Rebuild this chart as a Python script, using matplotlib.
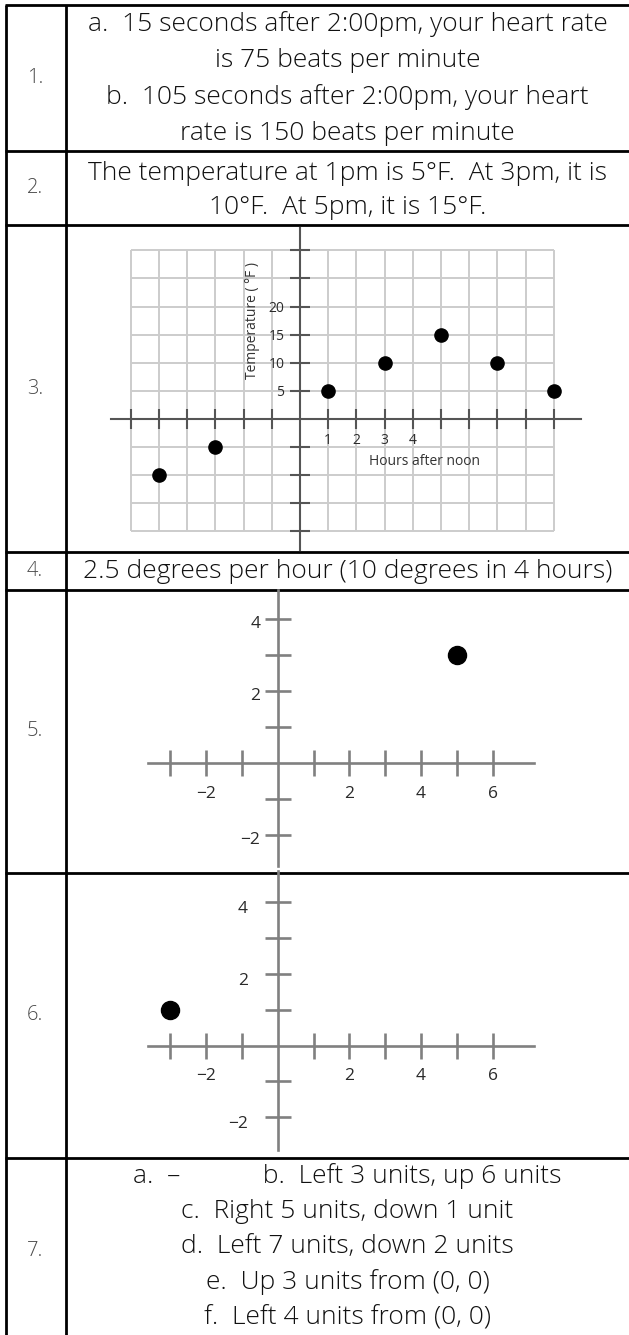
import numpy as np
import matplotlib.pyplot as plt
import matplotlib.transforms as mtransforms

W, H = 629, 1335
DPI = 100
plt.rcParams['font.family'] = ['Open Sans', 'DejaVu Sans']

# table text
row_labels = ['1.', '2.', '3.', '4.', '5.', '6.', '7.']
row1_lines = ['a.  15 seconds after 2:00pm, your heart rate',
              'is 75 beats per minute',
              'b.  105 seconds after 2:00pm, your heart',
              'rate is 150 beats per minute']
row2_lines = ['The temperature at 1pm is 5°F.  At 3pm, it is',
              '10°F.  At 5pm, it is 15°F.']
row4_lines = ['2.5 degrees per hour (10 degrees in 4 hours)']
row7_lines = ['a.  –            b.  Left 3 units, up 6 units',
              'c.  Right 5 units, down 1 unit',
              'd.  Left 7 units, down 2 units',
              'e.  Up 3 units from (0, 0)',
              'f.  Left 4 units from (0, 0)']

# question 3: temperature vs hours after noon
temp_hours = [-5, -3, 1, 3, 5, 7, 9]
temp_degf = [-10, -5, 5, 10, 15, 10, 5]
temp_xticks = [-6, -5, -4, -3, -2, -1, 1, 2, 3, 4, 5, 6, 7, 8, 9]
temp_xticklabels = ['', '', '', '', '', '', '1', '2', '3', '4', '', '', '', '', '']
temp_yticks = [-20, -15, -10, -5, 5, 10, 15, 20, 25, 30]
temp_yticklabels = ['', '', '', '', '5', '10', '15', '20', '', '']

# questions 5 and 6: one point each
q5_x = [5]
q5_y = [3]
q6_x = [-3]
q6_y = [1]
q_xticks = [-3, -2, -1, 1, 2, 3, 4, 5, 6]
q_xticklabels = ['', '−2', '', '', '2', '', '4', '', '6']
q_yticks = [-2, -1, 1, 2, 3, 4]
q_yticklabels = ['−2', '', '', '2', '', '4']

# table layout in pixels
row_edges = [5, 151, 225, 552, 590, 873, 1158, 1335]
col_edges = [6, 66]
text_x = (66 + W) / 2

fig = plt.figure(figsize=(W / DPI, H / DPI), dpi=DPI)
bg = fig.add_axes([0, 0, 1, 1])
bg.set_xlim(0, W)
bg.set_ylim(H, 0)
bg.axis('off')

for y in row_edges[:-1]:
    bg.plot([col_edges[0] - 1, W], [y, y], color='black', lw=2, solid_capstyle='butt')
for x in col_edges:
    bg.plot([x, x], [row_edges[0], H], color='black', lw=2, solid_capstyle='butt')

for i, lab in enumerate(row_labels):
    yc = (row_edges[i] + row_edges[i + 1]) / 2
    bg.text(35, yc + (4 if i == 6 else 0), lab, ha='center', va='center',
            fontsize=14.5, color='#4a4a4a', fontweight='light')


def put_lines(lines, yc, step):
    n = len(lines)
    for k, s in enumerate(lines):
        y = yc + (k - (n - 1) / 2) * step
        bg.text(text_x, y, s, ha='center', va='center', fontsize=19,
                color='#111111', fontweight='light')


put_lines(row1_lines, 79, 36.5)
put_lines(row2_lines, 190, 34)
put_lines(row4_lines, 571, 36)
put_lines(row7_lines, 1247, 35.3)


def graph_axes(origin, unit, xlim, ylim):
    ox, oy = origin
    ux, uy = unit
    left = ox + ux * xlim[0]
    right = ox + ux * xlim[1]
    top = oy - uy * ylim[1]
    bottom = oy - uy * ylim[0]
    ax = fig.add_axes([left / W, 1 - bottom / H, (right - left) / W, (bottom - top) / H])
    ax.set_xlim(xlim)
    ax.set_ylim(ylim)
    ax.patch.set_visible(False)
    for s in ['top', 'right']:
        ax.spines[s].set_visible(False)
    for s in ['left', 'bottom']:
        ax.spines[s].set_position(('data', 0))
    return ax


def style_axes(ax, color, lw, ticklen, labelsize, xpad, ypad):
    for s in ['left', 'bottom']:
        ax.spines[s].set_color(color)
        ax.spines[s].set_linewidth(lw)
        ax.spines[s].set_zorder(2)
    ax.tick_params(direction='inout', length=ticklen, width=lw, color=color,
                   labelsize=labelsize, labelcolor='#2a2a2a')
    ax.tick_params(axis='x', pad=xpad)
    ax.tick_params(axis='y', pad=ypad)


def nudge_ylabels(ax, dy_px):
    shift = mtransforms.ScaledTranslation(0, -dy_px / DPI, fig.dpi_scale_trans)
    for lab in ax.get_yticklabels():
        lab.set_transform(lab.get_transform() + shift)


# question 3 graph
ax3 = graph_axes((300, 419), (28.2, 28.1 / 5), (-6.7, 9.96), (-23.3, 34))
gx = np.arange(-6, 10)
gy = np.arange(-20, 31, 5)
ax3.vlines(gx, gy[0], gy[-1], color='#cccccc', lw=1.4, zorder=1)
ax3.hlines(gy, gx[0], gx[-1], color='#cccccc', lw=1.4, zorder=1)
style_axes(ax3, '#555555', 1.5, 14.5, 10, 3, 4)
ax3.set_xticks(temp_xticks, temp_xticklabels)
ax3.set_yticks(temp_yticks, temp_yticklabels)
ax3.plot(temp_hours, temp_degf, 'o', color='black', ms=9.5, zorder=3, clip_on=False)
ax3.text(-1.70, 17.6, 'Temperature ( °F )', rotation=90, ha='center', va='center',
         fontsize=10, color='#333333')
ax3.text(4.43, -7.65, 'Hours after noon', ha='center', va='center',
         fontsize=10, color='#333333')

# question 5 graph
ax5 = graph_axes((277.7, 762.7), (35.85, 36), (-3.63, 7.16), (-2.87, 4.8))
style_axes(ax5, '#808080', 1.9, 19, 12.5, 7, 3)
ax5.set_xticks(q_xticks, q_xticklabels)
ax5.set_yticks(q_yticks, q_yticklabels)
nudge_ylabels(ax5, 3)
ax5.plot(q5_x, q5_y, 'o', color='black', ms=13, zorder=3, clip_on=False)

# question 6 graph
ax6 = graph_axes((277.7, 1045.5), (35.85, 35.95), (-3.63, 7.16), (-2.92, 4.85))
style_axes(ax6, '#808080', 1.9, 19, 12.5, 7, 12)
ax6.set_xticks(q_xticks, q_xticklabels)
ax6.set_yticks(q_yticks, q_yticklabels)
nudge_ylabels(ax6, 5)
ax6.plot(q6_x, q6_y, 'o', color='black', ms=13, zorder=3, clip_on=False)

fig.savefig('out.png', dpi=DPI)
